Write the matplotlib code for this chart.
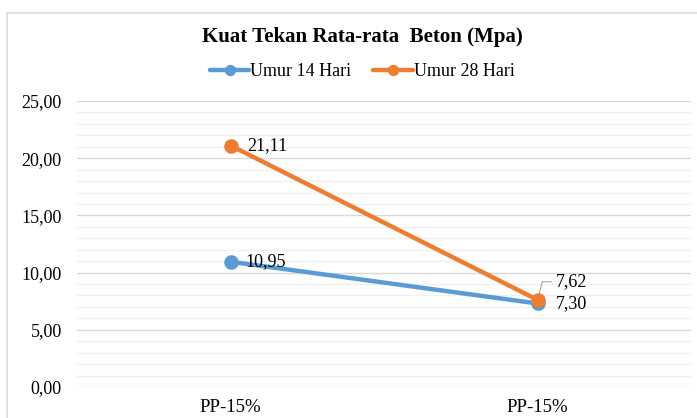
import matplotlib.pyplot as plt
from matplotlib.patches import Rectangle
from matplotlib.ticker import MultipleLocator, FuncFormatter

# data
categories = ["PP-15%", "PP-15%"]
umur_14 = [10.95, 7.30]
umur_28 = [21.11, 7.62]
series_names = ["Umur 14 Hari", "Umur 28 Hari"]
colors = ["#5B9BD5", "#ED7D31"]


def fmt(v):
    return f"{v:.2f}".replace(".", ",")


plt.rcParams['font.family'] = ['Liberation Serif', 'DejaVu Serif']

W, H = 697, 418
fig = plt.figure(figsize=(W / 100, H / 100), dpi=100)

# chart area border (cropped on right/bottom)
fig.patches.append(Rectangle((7 / W, -0.1), 1.2, (H - 13) / H + 0.1,
                             transform=fig.transFigure, fill=False,
                             edgecolor="#D9D9D9", linewidth=1.2))

ax = fig.add_axes([77 / W, (H - 387) / H, (691 - 77) / W, (387 - 101) / H])
x = [0, 1]
ax.set_xlim(-0.5, 1.5)
ax.set_ylim(0, 25)

ax.yaxis.set_major_locator(MultipleLocator(5))
ax.yaxis.set_minor_locator(MultipleLocator(1))
ax.yaxis.set_major_formatter(FuncFormatter(lambda v, p: fmt(v)))
ax.grid(True, which="major", axis="y", color="#D9D9D9", linewidth=1)
ax.grid(True, which="minor", axis="y", color="#F0F0F0", linewidth=1)
ax.set_axisbelow(True)
for s in ax.spines.values():
    s.set_visible(False)
ax.tick_params(axis="both", which="both", length=0)
ax.tick_params(axis="y", pad=11, labelsize=13)
ax.tick_params(axis="x", pad=9, labelsize=13.5)
ax.set_xticks(x)
ax.set_xticklabels(categories)

l1, = ax.plot(x, umur_14, color=colors[0], linewidth=3.2, marker="o",
              markersize=9.5, solid_capstyle="round", label=series_names[0], zorder=3)
l2, = ax.plot(x, umur_28, color=colors[1], linewidth=3.2, marker="o",
              markersize=9.5, solid_capstyle="round", label=series_names[1], zorder=4)

# data labels
ax.annotate(fmt(umur_28[0]), (x[0], umur_28[0]),
            xytext=(12, 0), textcoords="offset points", va="center", fontsize=13)
ax.annotate(fmt(umur_14[0]), (x[0], umur_14[0]),
            xytext=(11, 0), textcoords="offset points", va="center", fontsize=13)
ax.annotate(fmt(umur_14[1]), (x[1], umur_14[1]),
            xytext=(13, 0), textcoords="offset points", va="center", fontsize=13)
ax.annotate(fmt(umur_28[1]), (x[1], umur_28[1]),
            xytext=(13, 13), textcoords="offset points", va="center", fontsize=13,
            arrowprops=dict(arrowstyle="-", color="#A6A6A6", linewidth=0.8,
                            connectionstyle="angle,angleA=0,angleB=75,rad=0",
                            shrinkA=1, shrinkB=5))

fig.text(362 / W, 1 - 37 / H, "Kuat Tekan Rata-rata  Beton (Mpa)", ha="center",
         va="center", fontsize=15, fontweight="bold")
fig.legend(handles=[l1, l2], loc="center", bbox_to_anchor=(362 / W, 1 - 72 / H),
           ncol=2, frameon=False, fontsize=13, handlelength=2.2, handletextpad=0.05,
           columnspacing=1.2, markerscale=0.75)

fig.savefig("out.png", dpi=100)
